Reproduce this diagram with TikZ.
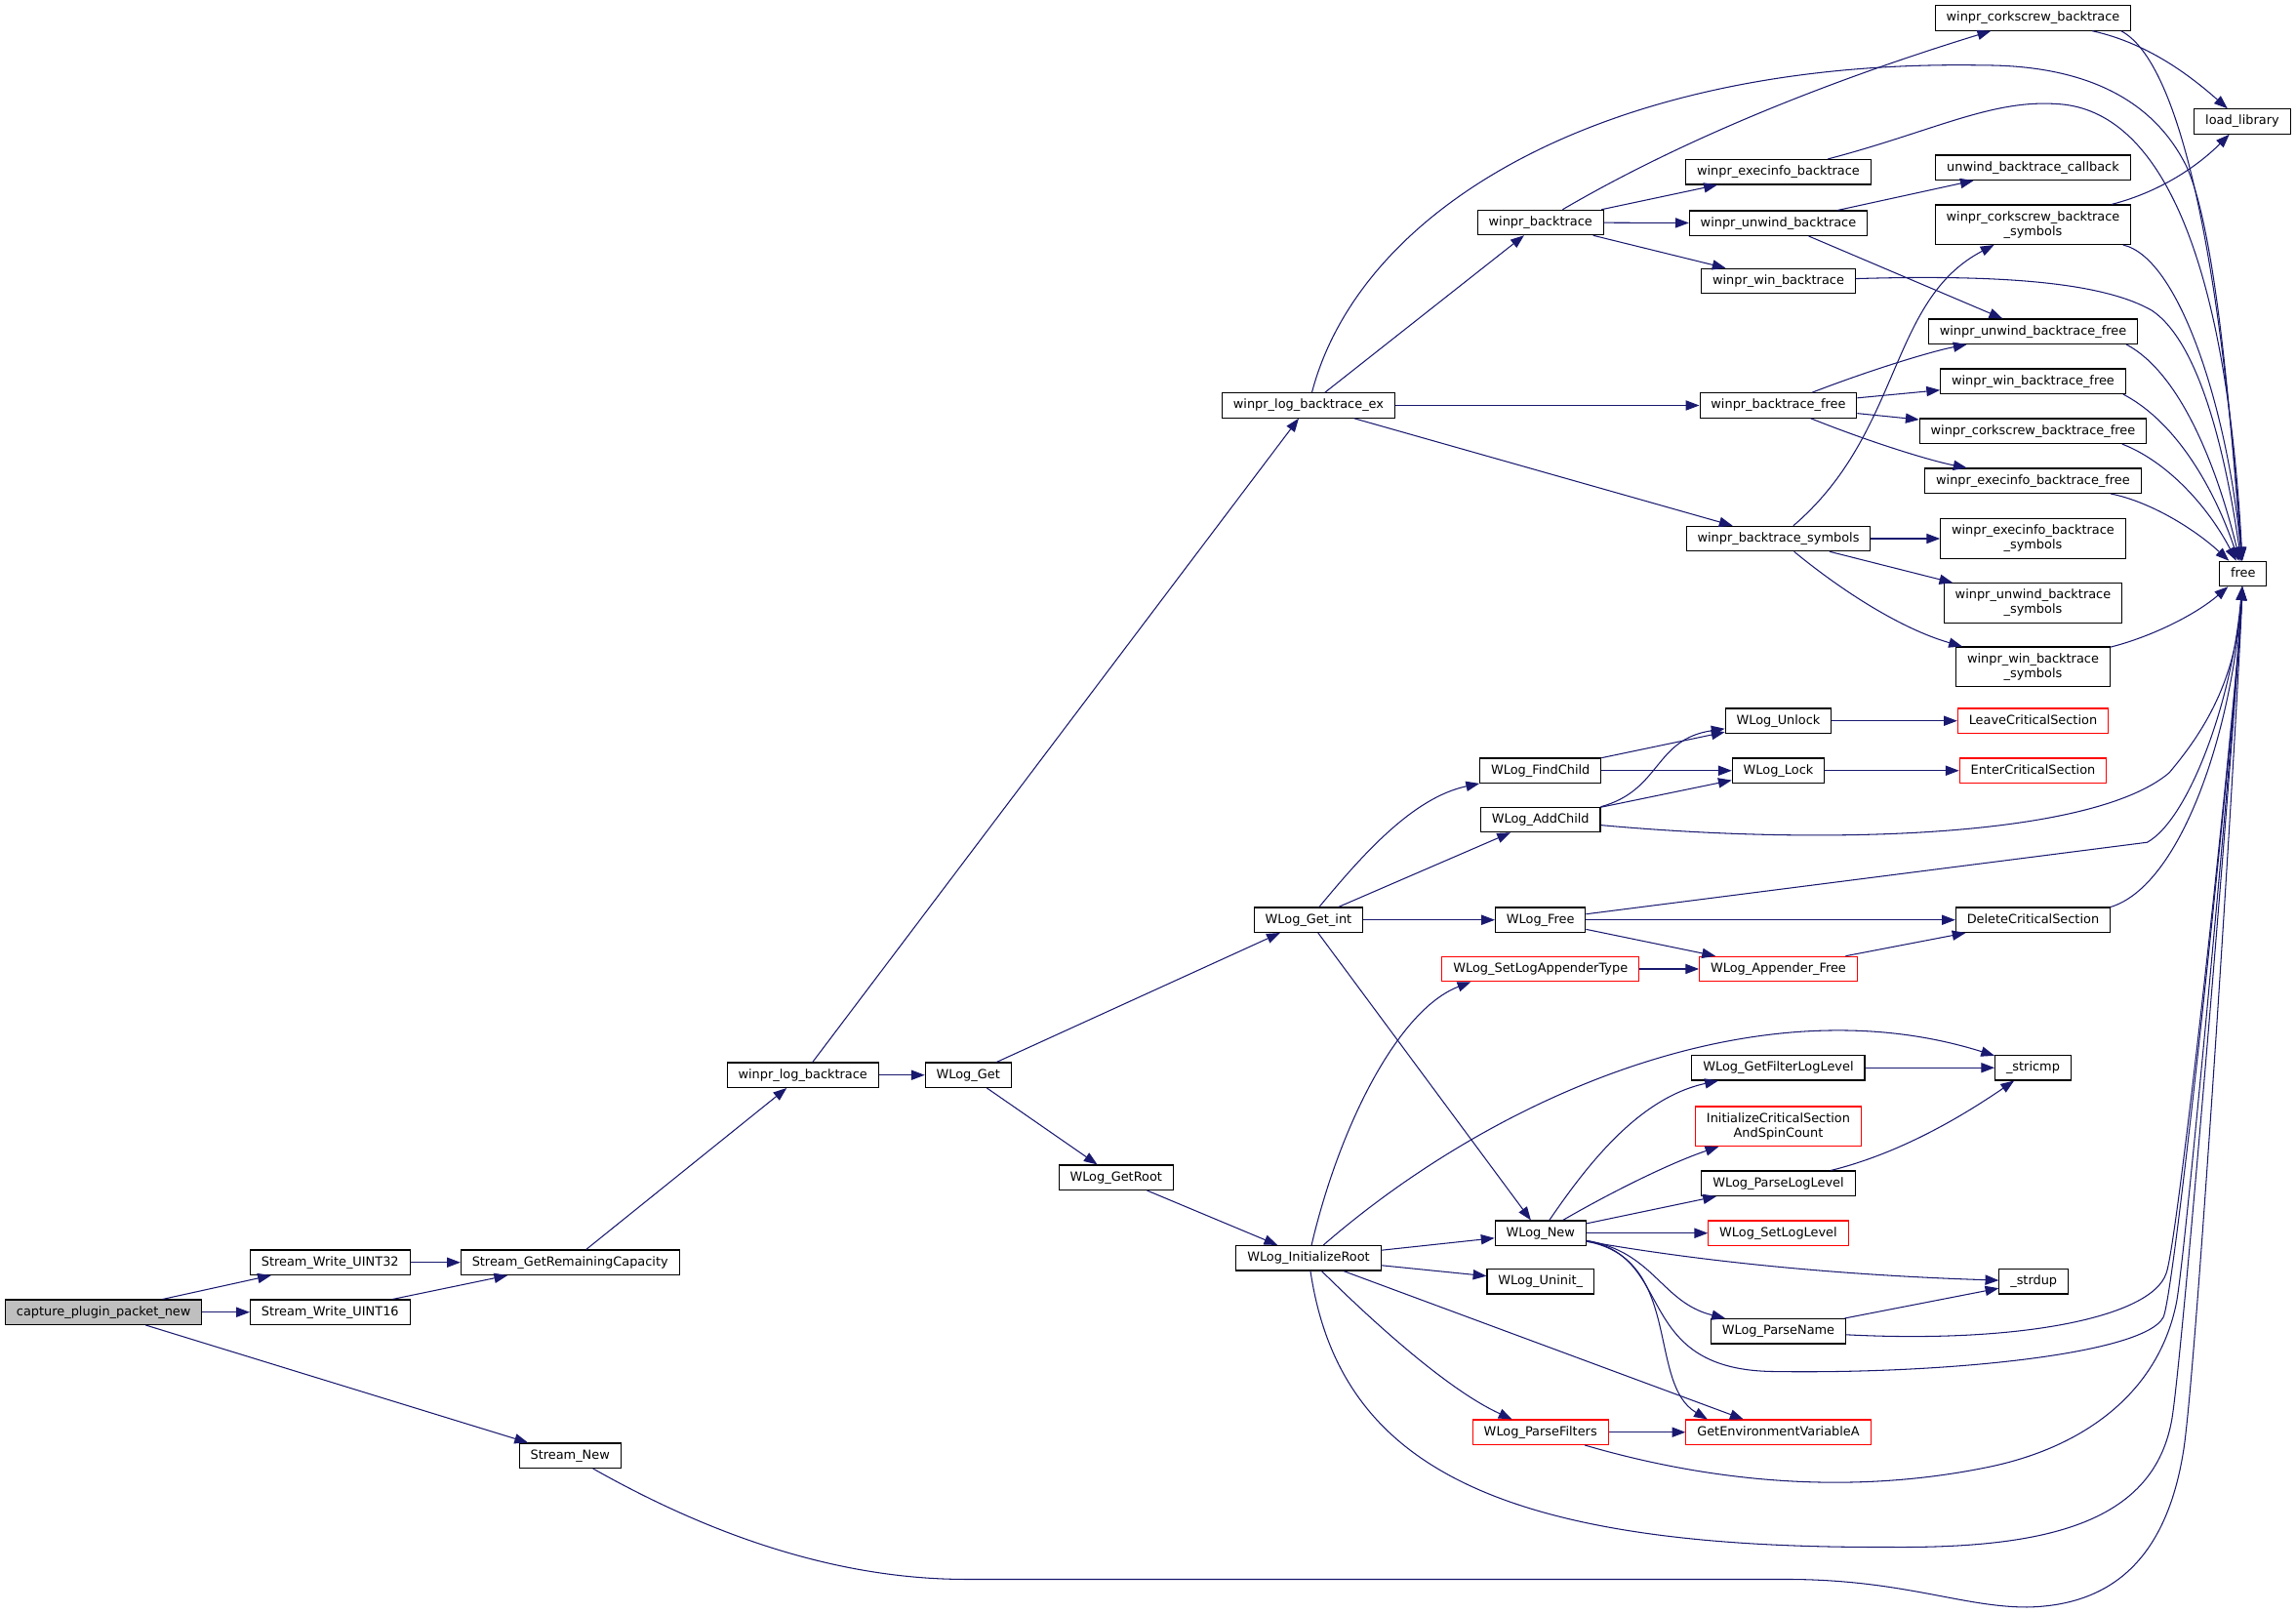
\documentclass[tikz,border=0pt]{standalone}
\usepackage{fontspec}
\setmainfont{DejaVu Sans}
\usetikzlibrary{arrows.meta}
\definecolor{callblue}{RGB}{25,25,112}
\definecolor{rootgray}{RGB}{191,191,191}
\tikzset{
  fnbox/.style={draw=black, fill=white, line width=0.7pt, inner xsep=7.6pt, inner ysep=0pt, minimum height=17pt, font=\fontsize{8.6}{10}\selectfont},
  fn/.style={fnbox, text height=6.4pt, text depth=2pt},
  fntwo/.style={fnbox, align=center, minimum height=27pt},
  trunc/.style={draw=red},
  call/.style={draw=callblue, line width=0.7pt, -{Triangle[length=9.2pt,width=6.8pt]}}
}
\begin{document}
\begin{tikzpicture}[x=1pt,y=1pt,yscale=-1,xscale=1]
\useasboundingbox (0,0) rectangle (1568.7,1102);

% Nodes
\node[fn,fill=rootgray] (cpn) at (70.8,896.5) {capture\_plugin\_packet\_new};
\node[fn] (swu32) at (225.5,862.5) {Stream\_Write\_UINT32};
\node[fn] (swu16) at (225.5,896.5) {Stream\_Write\_UINT16};
\node[fn] (sgrc) at (389.5,862.5) {Stream\_GetRemainingCapacity};
\node[fn] (snew) at (389.5,994.5) {Stream\_New};
\node[fn] (wlbt) at (548.5,734.5) {winpr\_log\_backtrace};
\node[fn] (wlget) at (661.5,734.5) {WLog\_Get};
\node[fn] (wlroot) at (762.5,804.5) {WLog\_GetRoot};
\node[fn] (wlbtex) at (894,277) {winpr\_log\_backtrace\_ex};
\node[fn] (wlgint) at (894,628.5) {WLog\_Get\_int};
\node[fn] (wlinit) at (894,859.5) {WLog\_InitializeRoot};
\node[fn] (wbt) at (1052.5,152) {winpr\_backtrace};
\node[fn] (wfind) at (1052.5,526.5) {WLog\_FindChild};
\node[fn] (wadd) at (1052.5,560) {WLog\_AddChild};
\node[fn] (wfree) at (1052.5,628.5) {WLog\_Free};
\node[fn,trunc] (wsetapp) at (1052.5,662) {WLog\_SetLogAppenderType};
\node[fn] (wnew) at (1052.5,842.5) {WLog\_New};
\node[fn] (wuninit) at (1052.5,875.5) {WLog\_Uninit\_};
\node[fn,trunc] (wpfilt) at (1052.5,978.5) {WLog\_ParseFilters};
\node[fn] (exbt) at (1215,117.5) {winpr\_execinfo\_backtrace};
\node[fn] (unbt) at (1215,152.5) {winpr\_unwind\_backtrace};
\node[fn] (winbt) at (1215,192) {winpr\_win\_backtrace};
\node[fn] (btfree) at (1215,277) {winpr\_backtrace\_free};
\node[fn] (btsym) at (1215,368) {winpr\_backtrace\_symbols};
\node[fn] (wunlock) at (1215,492.5) {WLog\_Unlock};
\node[fn] (wlock) at (1215,526.5) {WLog\_Lock};
\node[fn,trunc] (wappfree) at (1215,662) {WLog\_Appender\_Free};
\node[fn] (wgetflt) at (1215,729.5) {WLog\_GetFilterLogLevel};
\node[fntwo,trunc] (icsasc) at (1215,769.5) {InitializeCriticalSection\\AndSpinCount};
\node[fn] (wplvl) at (1215,808.5) {WLog\_ParseLogLevel};
\node[fn,trunc] (wsetlvl) at (1215,842.5) {WLog\_SetLogLevel};
\node[fn] (wpname) at (1215,909.5) {WLog\_ParseName};
\node[fn,trunc] (getenv) at (1215,978.5) {GetEnvironmentVariableA};
\node[fn] (ckbt) at (1389,12.3) {winpr\_corkscrew\_backtrace};
\node[fn] (uncb) at (1389,114.5) {unwind\_backtrace\_callback};
\node[fntwo] (cksym) at (1389,153.5) {winpr\_corkscrew\_backtrace\\\_symbols};
\node[fn] (unfree) at (1389,226.5) {winpr\_unwind\_backtrace\_free};
\node[fn] (winfree) at (1389,260.5) {winpr\_win\_backtrace\_free};
\node[fn] (ckfree) at (1389,294.5) {winpr\_corkscrew\_backtrace\_free};
\node[fn] (exfree) at (1389,328.5) {winpr\_execinfo\_backtrace\_free};
\node[fntwo] (exsym) at (1389,368) {winpr\_execinfo\_backtrace\\\_symbols};
\node[fntwo] (unsym) at (1389,412) {winpr\_unwind\_backtrace\\\_symbols};
\node[fntwo] (winsym) at (1389,455.5) {winpr\_win\_backtrace\\\_symbols};
\node[fn,trunc] (leave) at (1389,492.5) {LeaveCriticalSection};
\node[fn,trunc] (enter) at (1389,526.5) {EnterCriticalSection};
\node[fn] (delcs) at (1389,628.5) {DeleteCriticalSection};
\node[fn] (stricmp) at (1389,729.5) {\_stricmp};
\node[fn] (strdup) at (1389.5,875.5) {\_strdup};
\node[fn] (loadlib) at (1532,83) {load\_library};
\node[fn] (free) at (1532.5,392) {free};

% Calls, left part
\draw[call] (cpn) -- (swu32);
\draw[call] (cpn) -- (swu16);
\draw[call] (cpn) -- (snew);
\draw[call] (swu32) -- (sgrc);
\draw[call] (swu16) -- (sgrc);
\draw[call] (sgrc) -- (wlbt);
\draw[call] (wlbt) -- (wlbtex);
\draw[call] (wlbt) -- (wlget);
\draw[call] (wlget) -- (wlgint);
\draw[call] (wlget) -- (wlroot);
\draw[call] (wlroot) -- (wlinit);

% Calls, backtrace part
\draw[call] (wlbtex) -- (wbt);
\draw[call] (wlbtex) -- (btfree);
\draw[call] (wlbtex) -- (btsym);
\draw[call] (wlbtex) .. controls (930,140) and (1100,40) .. (1355,44.6) .. controls (1420,44.6) and (1470,65) .. (1494,114) .. controls (1515,160) and (1525,300) .. (free);
\draw[call] (wbt) .. controls (1150,95) and (1250,55) .. (ckbt);
\draw[call] (wbt) -- (exbt);
\draw[call] (wbt) -- (unbt);
\draw[call] (wbt) -- (winbt);
\draw[call] (ckbt) .. controls (1470,30) and (1500,55) .. (loadlib);
\draw[call] ([xshift=-7pt]ckbt.south east) .. controls (1485,40) and (1515,150) .. (free);
\draw[call] (exbt) .. controls (1320,90) and (1360,68) .. (1405,71) .. controls (1470,74) and (1520,160) .. (free);
\draw[call] (unbt) -- (uncb);
\draw[call] (unbt) -- (unfree);
\draw[call] (winbt) .. controls (1380,187) and (1440,195) .. (1470,212) .. controls (1505,235) and (1522,320) .. (free);
\draw[call] (cksym) .. controls (1480,130) and (1505,110) .. (loadlib);
\draw[call] (cksym) .. controls (1489,176) and (1522,280) .. (free);
\draw[call] (btfree) .. controls (1280,252) and (1320,240) .. (unfree);
\draw[call] (btfree) -- (winfree);
\draw[call] (btfree) -- (ckfree);
\draw[call] (btfree) .. controls (1280,303) and (1320,315) .. (exfree);
\draw[call] ([xshift=-8pt]unfree.south east) .. controls (1490,255) and (1515,320) .. (free);
\draw[call] ([xshift=-2pt]winfree.south east) .. controls (1490,290) and (1515,340) .. (free);
\draw[call] ([xshift=-17pt]ckfree.south east) .. controls (1480,315) and (1508,345) .. (free);
\draw[call] ([xshift=-21pt]exfree.south east) .. controls (1470,343) and (1500,362) .. (free);
\draw[call] (btsym) .. controls (1300,295) and (1290,205) .. (cksym);
\draw[call] (btsym) -- (exsym);
\draw[call] (btsym) -- (unsym);
\draw[call] (btsym) .. controls (1260,405) and (1300,430) .. (winsym);
\draw[call] (winsym) .. controls (1470,435) and (1500,420) .. (free);

% Calls, WLog part
\draw[call] (wlgint) .. controls (930,585) and (965,545) .. (wfind);
\draw[call] (wlgint) -- (wadd);
\draw[call] (wlgint) -- (wfree);
\draw[call] (wlgint) -- (wnew);
\draw[call] (wfind) -- (wunlock);
\draw[call] (wfind) -- (wlock);
\draw[call] (wadd.north east) .. controls (1135,540) and (1130,505) .. (wunlock);
\draw[call] (wadd) -- (wlock);
\draw[call] (wadd) .. controls (1250,578) and (1430,572) .. (1482,528) .. controls (1510,495) and (1528,460) .. (free);
\draw[call] (wunlock) -- (leave);
\draw[call] (wlock) -- (enter);
\draw[call] (wfree) -- (1467,575.5) .. controls (1495,560) and (1525,480) .. (free);
\draw[call] (wfree) -- (delcs);
\draw[call] (wfree) -- (wappfree);
\draw[call] (wappfree) -- (delcs);
\draw[call] (wsetapp) -- (wappfree);
\draw[call] (delcs.north east) .. controls (1490,605) and (1525,500) .. (free);
\draw[call] (wlinit) .. controls (915,770) and (955,690) .. ([xshift=20pt]wsetapp.south west);
\draw[call] (wlinit) .. controls (1020,750) and (1200,670) .. (stricmp);
\draw[call] (wlinit) -- (wnew);
\draw[call] (wlinit) -- (wuninit);
\draw[call] (wlinit) -- (getenv);
\draw[call] (wlinit) .. controls (940,905) and (990,950) .. (wpfilt);
\draw[call] (wlinit) .. controls (915,1000) and (1020,1058) .. (1290,1057) .. controls (1400,1058) and (1472,1040) .. (1484,969) .. controls (1492,919) and (1528,480) .. (free);
\draw[call] (wpfilt) -- (getenv);
\draw[call] (wpfilt) .. controls (1150,1007) and (1250,1025) .. (1360,1002) .. controls (1426,988) and (1475,950) .. (1487,890) .. controls (1493,860) and (1528,480) .. (free);
\draw[call] (wnew) .. controls (1085,795) and (1120,750) .. (wgetflt);
\draw[call] (wnew) .. controls (1100,815) and (1140,795) .. (icsasc);
\draw[call] (wnew) -- (wplvl);
\draw[call] (wnew) -- (wsetlvl);
\draw[call] (wnew) .. controls (1180,865) and (1280,872) .. (strdup);
\draw[call] (wnew) .. controls (1130,855) and (1135,890) .. (wpname);
\draw[call] (wnew) .. controls (1150,860) and (1125,945) .. ([xshift=15pt]getenv.north west);
\draw[call] (wnew) .. controls (1145,858) and (1115,935) .. (1210,937) .. controls (1330,939) and (1465,925) .. (1478,900) .. controls (1486,885) and (1528,480) .. (free);
\draw[call] (wgetflt) -- (stricmp);
\draw[call] (wplvl) .. controls (1290,790) and (1330,770) .. (stricmp);
\draw[call] (wpname) -- (strdup);
\draw[call] (wpname) .. controls (1380,918) and (1470,900) .. (1480,870) .. controls (1488,850) and (1528,480) .. (free);
\draw[call] (snew) .. controls (470,1040) and (560,1079) .. (660,1079) -- (1220,1079) .. controls (1300,1079) and (1340,1098) .. (1385,1098) .. controls (1440,1097) and (1480,1068) .. (1492,990) .. controls (1501,930) and (1528,500) .. (free);

\end{tikzpicture}
\end{document}
